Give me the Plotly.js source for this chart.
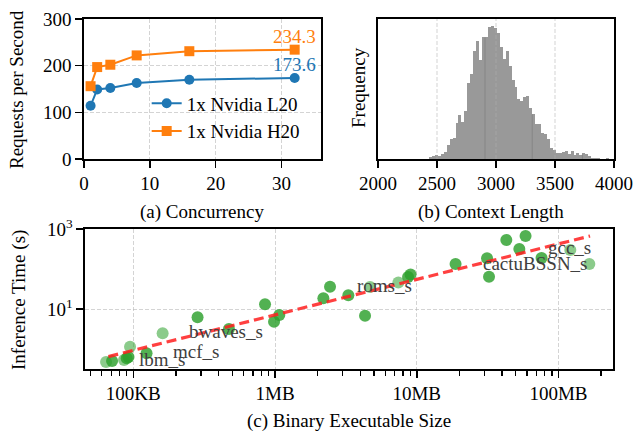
<!DOCTYPE html>
<html><head><meta charset="utf-8">
<script src="https://cdn.plot.ly/plotly-3.0.1.min.js"></script>
<style>html,body{margin:0;padding:0;background:#fff}#chart{width:635px;height:433px}</style>
</head><body><div id="chart"></div>
<script>
// (a) Concurrency
const concurrency = [1, 2, 4, 8, 16, 32];
const rpsL20 = [114, 149, 152, 163, 170, 173.6];
const rpsH20 = [156, 197, 202, 222, 231, 234.3];

// (b) Context length histogram
const ctxBinStart = 2432;
const ctxBinWidth = 25;
const ctxCounts = [5, 8, 12, 10, 15, 22, 42, 58, 62, 108, 130, 110, 142, 225, 252, 320, 350, 294, 360, 360,
  392, 395, 388, 372, 332, 295, 320, 275, 235, 212, 177, 172, 185, 188, 150, 132, 105, 105, 77, 75,
  58, 33, 27, 18, 18, 20, 23, 15, 23, 12, 18, 13, 18, 15, 8, 3, 3, 3, 0, 0, 3, 0];
const ctxOverlapEdges = [19, 35, 52];
const ctxTickVals = [2000, 2500, 3000, 3500, 4000];

// (c) Binary size vs inference time
const sizeA = [70800, 89800, 92500, 124000, 284000, 473000, 850000, 984000, 1072000, 2193000, 2444000,
  3291000, 4317000, 8686000, 9045000, 18790000, 31340000, 32370000, 42880000, 52970000, 58600000, 76000000];
const timeA = [0.501, 0.585, 0.631, 0.781, 6.20, 3.16, 13.1, 4.81, 7.08, 18.5, 36.1,
  22.0, 6.80, 63.1, 72.9, 133, 185, 64.2, 531, 316, 668, 188];
const sizeB = [64200, 86000, 94800, 161000, 4681000, 7418000, 121300000, 165200000];
const timeB = [0.473, 0.531, 1.14, 2.47, 35.5, 46.0, 299, 133];
const fitSize = [66700, 167100000];
const fitTime = [0.646, 668];
const labelNames = ['lbm_s', 'mcf_s', 'bwaves_s', 'roms_s', 'cactuBSSN_s', 'gcc_s'];
const labelSize = [105700, 183800, 240500, 3670000, 28290000, 81750000];
const labelTime = [0.562, 0.856, 2.71, 38.2, 138.8, 340.8];
const sizeTickVals = [1e5, 1e6, 1e7, 1e8];
const sizeTickText = ['100KB', '1MB', '10MB', '100MB'];
const timeTickVals = [10, 1000];
const timeTickText = ['10<sup>1</sup>', '10<sup>3</sup>'];

const FONT = 'Liberation Serif';
const FS = 19;
const GRID = 'rgba(176,176,176,0.55)';
const GRIDDASH = '4px,2px';

function ax(extra) {
  return Object.assign({
    showline: true, linecolor: '#000', linewidth: 1.6, mirror: true,
    ticks: 'outside', ticklen: 7, tickwidth: 1.6, tickcolor: '#000',
    showgrid: true, gridcolor: GRID, gridwidth: 1, griddash: GRIDDASH,
    zeroline: false, automargin: false,
    tickfont: {family: FONT, size: FS, color: '#000'}
  }, extra);
}

// histogram derived arrays
const binCenters = ctxCounts.map((c, i) => ctxBinStart + ctxBinWidth * (i + 0.5));
const maxCount = Math.max(...ctxCounts);

// minor ticks for log x axis
const minorVals = [];
for (let d = 4; d <= 8; d++) for (let m = 2; m <= 9; m++) minorVals.push(m * Math.pow(10, d));

const traces = [
  {x: concurrency, y: rpsL20, name: '1x Nvidia L20', type: 'scatter', mode: 'lines+markers',
   line: {color: '#1f77b4', width: 2}, marker: {symbol: 'circle', size: 10, color: '#1f77b4'},
   xaxis: 'x', yaxis: 'y'},
  {x: concurrency, y: rpsH20, name: '1x Nvidia H20', type: 'scatter', mode: 'lines+markers',
   line: {color: '#ff7f0e', width: 2}, marker: {symbol: 'square', size: 10, color: '#ff7f0e'},
   xaxis: 'x', yaxis: 'y'},
  {x: binCenters, y: ctxCounts, type: 'bar', width: ctxBinWidth, marker: {color: '#999999', line: {width: 0}},
   showlegend: false, xaxis: 'x2', yaxis: 'y2', hoverinfo: 'skip'}
];
ctxOverlapEdges.forEach(i => {
  const xe = ctxBinStart + ctxBinWidth * i;
  const h = Math.min(ctxCounts[i - 1], ctxCounts[i]);
  traces.push({x: [xe, xe], y: [0, h], type: 'scatter', mode: 'lines', line: {color: '#858585', width: 1},
    showlegend: false, xaxis: 'x2', yaxis: 'y2', hoverinfo: 'skip'});
});
traces.push(
  {x: sizeB, y: timeB, type: 'scatter', mode: 'markers', marker: {size: 12, color: 'rgba(44,160,44,0.55)', line: {width: 0}},
   showlegend: false, xaxis: 'x3', yaxis: 'y3'},
  {x: sizeA, y: timeA, type: 'scatter', mode: 'markers', marker: {size: 12, color: 'rgba(44,160,44,0.82)', line: {width: 0}},
   showlegend: false, xaxis: 'x3', yaxis: 'y3'},
  {x: fitSize, y: fitTime, type: 'scatter', mode: 'lines', line: {color: 'rgba(255,30,30,0.85)', width: 3.2, dash: '10px,5px'},
   showlegend: false, xaxis: 'x3', yaxis: 'y3'}
);

const tf = {family: FONT, size: FS, color: '#000'};
function paperText(text, px, py, angle) {
  return {x: px / 635, y: 1 - py / 433, xref: 'paper', yref: 'paper', text: text, textangle: angle || 0,
    xanchor: 'center', yanchor: 'middle', showarrow: false, font: tf};
}
const annotations = [
  {x: concurrency[5], y: rpsH20[5], xref: 'x', yref: 'y', text: rpsH20[5].toFixed(1), showarrow: false,
   xanchor: 'center', yanchor: 'bottom', yshift: 1, font: {family: FONT, size: FS, color: '#ff7f0e'}},
  {x: concurrency[5], y: rpsL20[5], xref: 'x', yref: 'y', text: rpsL20[5].toFixed(1), showarrow: false,
   xanchor: 'center', yanchor: 'bottom', yshift: 1, font: {family: FONT, size: FS, color: '#1f77b4'}},
  paperText('Requests per Second', 17, 90, -90),
  paperText('Frequency', 358, 88, -90),
  paperText('(a) Concurrency', 202, 212),
  paperText('(b) Context Length', 491, 212),
  paperText('Inference Time (s)', 19, 300, -90),
  paperText('(c) Binary Executable Size', 349, 421)
];
labelNames.forEach((n, i) => annotations.push({
  x: Math.log10(labelSize[i]), y: Math.log10(labelTime[i]), xref: 'x3', yref: 'y3', text: n,
  showarrow: false, xanchor: 'left', yanchor: 'middle', font: {family: FONT, size: FS, color: '#404040'}
}));

const shapes = ctxTickVals.slice(1, -1).map(v => ({
  type: 'line', xref: 'x2', yref: 'y2 domain', x0: v, x1: v, y0: 0, y1: 1, layer: 'above',
  line: {color: GRID, width: 1, dash: GRIDDASH}
}));

const layout = {
  width: 635, height: 433,
  margin: {l: 0, r: 0, t: 0, b: 0},
  paper_bgcolor: '#fff', plot_bgcolor: '#fff',
  font: {family: FONT, size: FS, color: '#000'},
  bargap: 0,
  showlegend: true,
  legend: {x: 0.231, y: 0.805, xanchor: 'left', yanchor: 'top', bgcolor: 'rgba(255,255,255,0)',
    font: {family: FONT, size: FS, color: '#000'}, tracegroupgap: 0},
  xaxis: ax({domain: [84 / 635, 321 / 635], range: [0, 36], tickvals: [0, 10, 20, 30], anchor: 'y'}),
  yaxis: ax({domain: [1 - 159 / 433, 1 - 19 / 433], range: [0, 300], tickvals: [0, 100, 200, 300], anchor: 'x'}),
  xaxis2: ax({domain: [378 / 635, 614 / 635], range: [2000, 4000], tickvals: ctxTickVals, showgrid: false, anchor: 'y2'}),
  yaxis2: ax({domain: [1 - 159 / 433, 1 - 19 / 433], range: [0, maxCount * 1.05], showticklabels: false, ticks: '',
    showgrid: false, anchor: 'x2'}),
  xaxis3: ax({domain: [85 / 635, 613 / 635], type: 'log', range: [4.659, 8.385], tickmode: 'array',
    tickvals: sizeTickVals, ticktext: sizeTickText, anchor: 'y3',
    minor: {tickmode: 'array', tickvals: minorVals, ticks: 'outside', ticklen: 5, tickwidth: 1.2, tickcolor: '#000', showgrid: false}}),
  yaxis3: ax({domain: [1 - 369 / 433, 1 - 229 / 433], type: 'log', range: [-0.5, 3], tickmode: 'array',
    tickvals: timeTickVals, ticktext: timeTickText, anchor: 'x3'}),
  annotations: annotations,
  shapes: shapes
};

Plotly.newPlot('chart', traces, layout, {staticPlot: true, displayModeBar: false});
</script>
</body></html>
